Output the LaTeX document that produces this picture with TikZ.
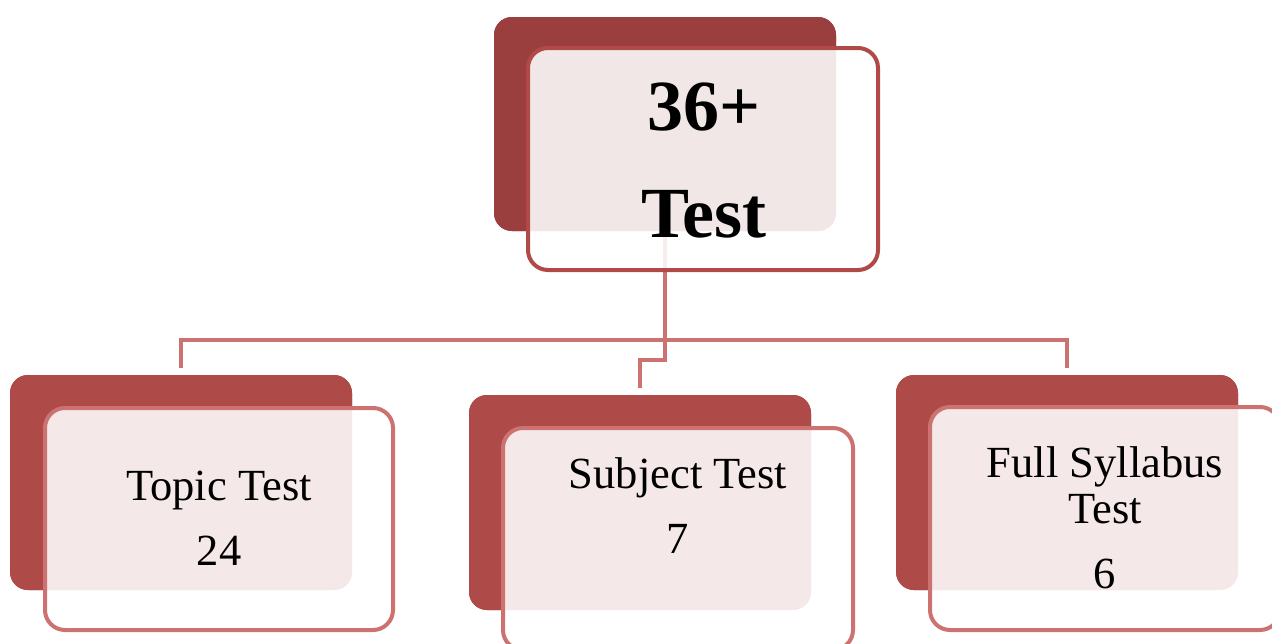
\documentclass[tikz,border=0pt]{standalone}
\usepackage{fontspec}
\setmainfont{Liberation Serif}
\definecolor{topdark}{HTML}{9A3F3E}
\definecolor{topline}{HTML}{B04A48}
\definecolor{dark}{HTML}{AE4A47}
\definecolor{lite}{HTML}{CC7270}
\tikzset{
  backbox/.style={fill=dark, draw=none, rounded corners=18pt, minimum width=342pt, minimum height=215pt, anchor=north west, inner sep=0pt, outer sep=0pt},
  frontbox/.style={draw=lite, line width=4pt, fill=white, fill opacity=0.88, rounded corners=20pt, minimum width=348pt, minimum height=222pt, anchor=north west, inner sep=0pt, outer sep=0pt},
  conn/.style={draw=lite, line width=4pt},
  bigtxt/.style={font=\fontsize{72}{80}\selectfont\bfseries, anchor=base, inner sep=0pt, text opacity=1},
  smalltxt/.style={font=\fontsize{44.5}{50}\selectfont, anchor=base, inner sep=0pt, text opacity=1}
}
\begin{document}
\begin{tikzpicture}[x=1pt,y=1pt]
\useasboundingbox (0,0) rectangle (1272,-643);
% back boxes (named, used by connectors)
\path (494,-17) node[backbox, fill=topdark, minimum width=342pt, minimum height=214pt] (tb) {};
\path (10,-375) node[backbox] (lb) {};
\path (469,-395) node[backbox] (mb) {};
\path (896,-375) node[backbox] (rb) {};
% connectors
\draw[conn] ([yshift=7pt]lb.north) |- ([yshift=35pt]rb.north) -- ([yshift=7pt]rb.north);
\draw[conn] (tb.south) -- ++(0,-129) -| ([yshift=7pt]mb.north);
% redraw back boxes over connectors
\fill[topdark, rounded corners=18pt] (tb.north west) rectangle (tb.south east);
\fill[dark, rounded corners=18pt] (lb.north west) rectangle (lb.south east);
\fill[dark, rounded corners=18pt] (mb.north west) rectangle (mb.south east);
\fill[dark, rounded corners=18pt] (rb.north west) rectangle (rb.south east);
% front boxes
\path (528,-48) node[frontbox, draw=topline, minimum width=350pt, minimum height=222pt] (tf) {};
\path (45,-408) node[frontbox] (lf) {};
\path (503,-428) node[frontbox, minimum width=350pt, minimum height=222pt] (mf) {};
\path (930,-407) node[frontbox, minimum width=350pt, minimum height=223pt] (rf) {};
% texts
\node[bigtxt] (t1) at (704,-130) {36+};
\node[bigtxt] (t2) at (704,-237) {Test};
\node[smalltxt] (l1) at (219,-500) {Topic Test};
\node[smalltxt] (l2) at (219,-565) {24};
\node[smalltxt] (m1) at (678,-488) {Subject Test};
\node[smalltxt] (m2) at (678,-553) {7};
\node[smalltxt] (r1) at (1105,-477) {Full Syllabus};
\node[smalltxt] (r2) at (1105,-523) {Test};
\node[smalltxt] (r3) at (1105,-588) {6};
\end{tikzpicture}
\end{document}
